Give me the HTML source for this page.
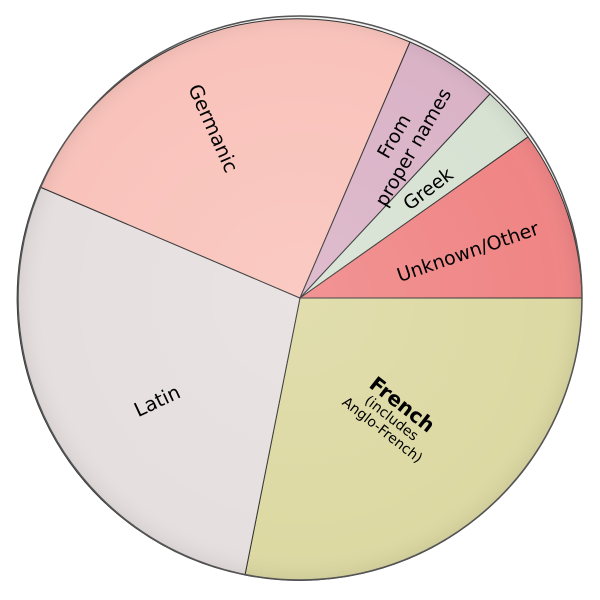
<!DOCTYPE html>
<html><head><style>body{margin:0;background:#fff}svg{display:block}</style></head><body>
<svg width="600" height="600" viewBox="0 0 600 600" font-family="'DejaVu Sans','Liberation Sans',sans-serif">
<defs>
<radialGradient id="g" cx="300" cy="298" r="282" gradientUnits="userSpaceOnUse">
<stop offset="0" stop-color="#fff" stop-opacity="0.12"/>
<stop offset="0.9" stop-color="#fff" stop-opacity="0"/>
<stop offset="1" stop-color="#000" stop-opacity="0.06"/>
</radialGradient>
</defs>
<g stroke="#333" stroke-width="1">
<path d="M300,298 L582,298 A282,282 0 0 1 245,575 Z" fill="#ddd9a3"/>
<path d="M300,298 L245,575 A282,282 0 0 1 40,187 Z" fill="#e6dfdf"/>
<path d="M300,298 L40,187 A282,282 0 0 1 410,42 Z" fill="#f9c3bb"/>
<path d="M300,298 L410,42 A282,282 0 0 1 490,94 Z" fill="#dab3c7"/>
<path d="M300,298 L490,94 A282,282 0 0 1 528,137 Z" fill="#d7e2d3"/>
<path d="M300,298 L528,137 A282,282 0 0 1 582,298 Z" fill="#f08585"/>
</g>
<circle cx="300" cy="298" r="282" fill="url(#g)" stroke="#555" stroke-width="1.5"/>
<g fill="#000" text-anchor="middle">
<text transform="translate(207,131) rotate(66)" font-size="19.5">Germanic</text>
<text transform="translate(404,142) rotate(-60)" font-size="19"><tspan x="0" y="-5">From</tspan><tspan x="0" y="17">proper names</tspan></text>
<text transform="translate(432,194) rotate(-37)" font-size="19">Greek</text>
<text transform="translate(470,258) rotate(-19)" font-size="19">Unknown/Other</text>
<text transform="translate(160,407) rotate(-25)" font-size="19.5">Latin</text>
<g transform="translate(398,410) rotate(38)">
<text y="0" font-size="20" font-weight="bold">French</text>
<text y="15" font-size="14">(includes</text>
<text y="30" font-size="14">Anglo-French)</text>
</g>
</g>
</svg>
</body></html>
